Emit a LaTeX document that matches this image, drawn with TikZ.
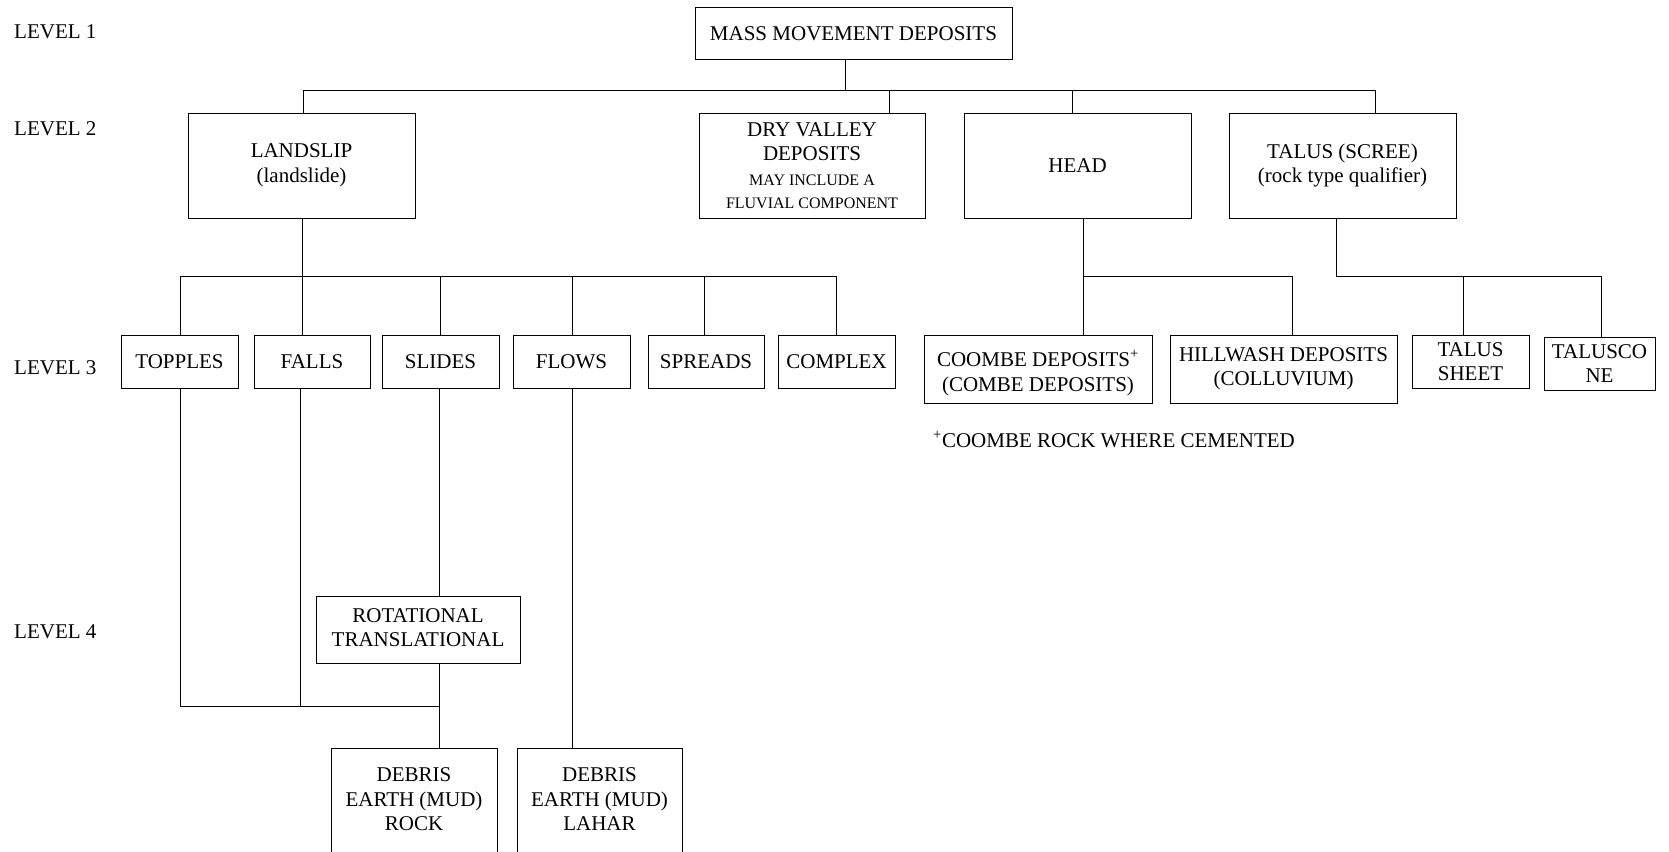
\documentclass[tikz,border=0pt]{standalone}
\usepackage{fontspec}
\setmainfont{Liberation Serif}
\begin{document}
\begin{tikzpicture}[x=1pt,y=-1pt,
  every node/.style={font=\fontsize{21}{24.5}\selectfont},
  box/.style={draw, line width=1pt, inner sep=0pt, align=center},
  lvl/.style={anchor=base west, inner sep=0pt},
  link/.style={line width=1pt}]
\useasboundingbox (0,0) rectangle (1669,851);

% level labels
\node[lvl] (l1) at (14,38.5) {LEVEL 1};
\node[lvl] (l2) at (14,135) {LEVEL 2};
\node[lvl] (l3) at (14,374) {LEVEL 3};
\node[lvl] (l4) at (14,638) {LEVEL 4};

% level 1
\node[box, minimum width=317pt, minimum height=52pt] (mass) at (853.5,34) {MASS MOVEMENT DEPOSITS};

% level 2
\node[box, minimum width=227pt, minimum height=105pt] (landslip) at (301.5,165.5) {LANDSLIP\\(landslide)};
\node[box, minimum width=226pt, minimum height=105pt] (dry) at (812,165.5)
  {DRY VALLEY\\DEPOSITS\\[0.5pt]{\fontsize{16}{23}\selectfont MAY INCLUDE A}\\[-1.5pt]{\fontsize{16}{23}\selectfont FLUVIAL COMPONENT}};
\node[box, minimum width=227pt, minimum height=105pt] (head) at (1077.5,165.5) {HEAD};
\node[box, minimum width=227pt, minimum height=105pt] (talus) at (1342.5,165.5) {TALUS (SCREE)\\(rock type qualifier)};

% level 3
\node[box, minimum width=117pt, minimum height=53pt] (topples) at (179.5,361.5) {TOPPLES};
\node[box, minimum width=116pt, minimum height=53pt] (falls) at (312,361.5) {FALLS};
\node[box, minimum width=117pt, minimum height=53pt] (slides) at (440.5,361.5) {SLIDES};
\node[box, minimum width=117pt, minimum height=53pt] (flows) at (571.5,361.5) {FLOWS};
\node[box, minimum width=116pt, minimum height=53pt] (spreads) at (706,361.5) {SPREADS};
\node[box, minimum width=117pt, minimum height=53pt] (complex) at (836.5,361.5) {COMPLEX};
\node[box, minimum width=228pt, minimum height=68pt] (coombe) at (1038,369)
  {\rule{0pt}{24pt}COOMBE DEPOSITS\textsuperscript{+}\\(COMBE DEPOSITS)};
\node[box, minimum width=227pt, minimum height=68pt] (hillwash) at (1283.5,369)
  {HILLWASH DEPOSITS\\(COLLUVIUM)};
\node[box, minimum width=117pt, minimum height=53pt] (tsheet) at (1470.5,361.5) {TALUS\\SHEET};
\node[box, minimum width=111pt, minimum height=53pt] (tcone) at (1599.5,363.5) {TALUSCO\\NE};

\node[anchor=base west, inner sep=0pt] (note) at (933,447) {\textsuperscript{+}COOMBE ROCK WHERE CEMENTED};

% level 4
\node[box, minimum width=204pt, minimum height=67pt] (rot) at (418,629.5)
  {ROTATIONAL\\TRANSLATIONAL\rule[-4pt]{0pt}{4pt}};
\node[box, anchor=north, minimum width=166pt, minimum height=120pt] (deb1) at (414,748) {};
\node[box, anchor=north, minimum width=165pt, minimum height=120pt] (deb2) at (599.5,748) {};
\node[align=center, inner sep=0pt] (deb1t) at (414,799.5) {DEBRIS\\EARTH (MUD)\\ROCK};
\node[align=center, inner sep=0pt] (deb2t) at (599.5,799.5) {DEBRIS\\EARTH (MUD)\\LAHAR};

% junction points
\coordinate (j0) at (845,90);
\coordinate (jL) at (303,90);
\coordinate (jD) at (889,90);
\coordinate (jH) at (1072,90);
\coordinate (jT) at (1375,90);

\coordinate (kL) at (302,276);
\coordinate (kA) at (180,276);
\coordinate (kC) at (440,276);
\coordinate (kD) at (572,276);
\coordinate (kE) at (704,276);
\coordinate (kF) at (836,276);

\coordinate (hA) at (1083,276);
\coordinate (hB) at (1292,276);
\coordinate (tA) at (1336,276);
\coordinate (tB) at (1463,276);
\coordinate (tC) at (1601,276);

\coordinate (mA) at (180,706);
\coordinate (mB) at (300,706);
\coordinate (mC) at (439,706);
\coordinate (xF) at (572,0);

% level 1 to level 2
\draw[link] (mass.south -| j0) -- (j0);
\draw[link] (landslip.north -| jL) -- (jL) -- (jT) -- (talus.north -| jT);
\draw[link] (dry.north -| jD) -- (jD);
\draw[link] (head.north -| jH) -- (jH);

% landslip to level 3
\draw[link] (landslip.south -| kL) -- (kL);
\draw[link] (topples.north -| kA) -- (kA) -- (kF) -- (complex.north -| kF);
\draw[link] (falls.north -| kL) -- (kL);
\draw[link] (slides.north -| kC) -- (kC);
\draw[link] (flows.north -| kD) -- (kD);
\draw[link] (spreads.north -| kE) -- (kE);

% head to level 3
\draw[link] (head.south -| hA) -- (hA) -- (hB) -- (hillwash.north -| hB);
\draw[link] (coombe.north -| hA) -- (hA);

% talus to level 3
\draw[link] (talus.south -| tA) -- (tA) -- (tC) -- (tcone.north -| tC);
\draw[link] (tsheet.north -| tB) -- (tB);

% level 3 to level 4
\draw[link] (topples.south -| mA) -- (mA) -- (mC);
\draw[link] (falls.south -| mB) -- (mB);
\draw[link] (slides.south -| mC) -- (rot.north -| mC);
\draw[link] (rot.south -| mC) -- (deb1.north -| mC);
\draw[link] (flows.south -| xF) -- (deb2.north -| xF);
\end{tikzpicture}
\end{document}
